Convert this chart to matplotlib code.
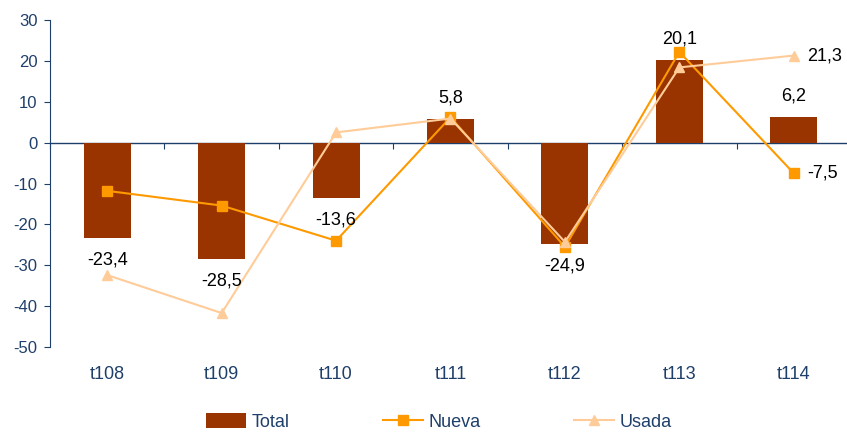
import matplotlib
matplotlib.use("Agg")
import matplotlib.pyplot as plt
import matplotlib.transforms as mtransforms
import numpy as np

categories = ["t108", "t109", "t110", "t111", "t112", "t113", "t114"]
total = [-23.4, -28.5, -13.6, 5.8, -24.9, 20.1, 6.2]
nueva = [-11.8, -15.4, -24.0, 6.2, -25.5, 22.2, -7.5]
usada = [-32.4, -41.7, 2.5, 5.9, -24.3, 18.4, 21.3]
yticks = [30, 20, 10, 0, -10, -20, -30, -40, -50]

plt.rcParams['font.family'] = ['Liberation Sans', 'DejaVu Sans']
axis_color = "#1F3F6B"
bar_color = "#993300"
nueva_color = "#FF9900"
usada_color = "#FFCC99"

fig = plt.figure(figsize=(8.47, 4.32), dpi=100)
ax = fig.add_axes([50/847, (432-347)/432, 801/847, 327/432])

x = np.arange(len(categories))
b = ax.bar(x, total, width=0.41, color=bar_color, label="Total", zorder=2)
ln, = ax.plot(x, nueva, color=nueva_color, marker="s", markersize=6.5, lw=1.5, label="Nueva", zorder=3)
lu, = ax.plot(x, usada, color=usada_color, marker="^", markersize=7.5, lw=1.5, label="Usada", zorder=4)

ax.set_xlim(-0.5, len(categories) - 0.5)
ax.set_ylim(-50, 30)
ax.set_yticks(yticks)
ax.set_yticklabels([str(v) for v in yticks], fontsize=12, color=axis_color)
ax.tick_params(axis="y", colors=axis_color, length=4, width=0.8, labelcolor=axis_color, pad=5)

for s in ["top", "right"]:
    ax.spines[s].set_visible(False)
ax.spines["left"].set_color(axis_color)
ax.spines["left"].set_linewidth(0.8)
ax.spines["bottom"].set_position(("data", 0))
ax.spines["bottom"].set_color(axis_color)
ax.spines["bottom"].set_linewidth(1.0)
ax.spines["bottom"].set_zorder(1)

ax.set_xticks(np.arange(len(categories) + 1) - 0.5)
ax.set_xticklabels([])
ax.tick_params(axis="x", colors=axis_color, length=4, width=0.8, direction="out")

trans = mtransforms.blended_transform_factory(ax.transData, ax.transAxes)
for xi, c in zip(x, categories):
    ax.text(xi, -0.085, c, transform=trans, ha="center", va="center", fontsize=13, color=axis_color)

def fmt(v):
    return f"{v:.1f}".replace(".", ",")

for xi, v in zip(x, total):
    if v < 0:
        ax.text(xi, v - 3.2, fmt(v), ha="center", va="top", fontsize=13, color="black", zorder=5)
    else:
        ax.text(xi, v + 3.1, fmt(v), ha="center", va="bottom", fontsize=13, color="black", zorder=5)

ax.text(x[-1] + 0.12, nueva[-1], fmt(nueva[-1]), ha="left", va="center", fontsize=13, color="black")
ax.text(x[-1] + 0.12, usada[-1], fmt(usada[-1]), ha="left", va="center", fontsize=13, color="black")

leg = fig.legend(handles=[b, ln, lu], labels=["Total", "Nueva", "Usada"],
                 loc="center left", bbox_to_anchor=(206/847, 10/432), ncol=3, frameon=False,
                 fontsize=13, columnspacing=5.2, handlelength=2.2, handleheight=0.9,
                 handletextpad=0.3, borderpad=0, borderaxespad=0)
for t in leg.get_texts():
    t.set_color(axis_color)

fig.savefig("out.png", dpi=100)
